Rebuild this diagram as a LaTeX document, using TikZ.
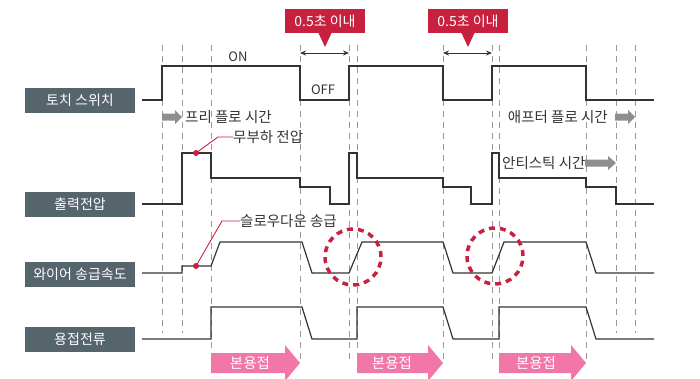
\documentclass[tikz,border=0pt]{standalone}
\usepackage{fontspec}
\setmainfont{Noto Sans CJK KR}
\usetikzlibrary{arrows.meta}
\definecolor{slate}{HTML}{56646C}
\definecolor{wine}{HTML}{C8203F}
\definecolor{pinkar}{HTML}{F077A8}
\definecolor{grayar}{HTML}{8E8E90}
\definecolor{ink}{HTML}{333333}
\begin{document}
\begin{tikzpicture}[x=1pt,y=-1pt,
  lbl/.style={fill=slate,text=white,minimum width=110pt,minimum height=25pt,inner sep=0pt,font=\fontsize{14}{14}\selectfont},
  sig/.style={draw=ink,line width=1.2pt},
  guide/.style={draw=black!40,line width=1pt,dash pattern=on 6pt off 5pt},
  callout/.style={fill=wine,text=white,minimum width=80pt,minimum height=24pt,inner sep=0pt,font=\fontsize{14}{14}\selectfont},
  tx/.style={text=ink,inner sep=0pt,font=\fontsize{14.5}{14.5}\selectfont},
  txs/.style={text=ink,inner sep=0pt,font=\fontsize{13}{13}\selectfont},
  pinkarrow/.style={fill=pinkar},
  grayarrow/.style={fill=grayar},
  redline/.style={draw=wine,line width=0.9pt},
  redring/.style={draw=wine,line width=3.5pt,dash pattern=on 6pt off 5pt}]
\useasboundingbox (0,0) rectangle (700,378);
% guides
\foreach \x in {162,182,616,635} \draw[guide] (\x,45) -- (\x,333);
\foreach \x in {211,300,349,357,443,492,499,586} \draw[guide] (\x,45) -- (\x,362);
% labels
\node[lbl] (l1) at (80,100) {토치 스위치};
\node[lbl] (l2) at (80,204) {출력전압};
\node[lbl] (l3) at (80,274) {와이어 송급속도};
\node[lbl] (l4) at (80,339) {용접전류};
% torch switch
\draw[sig] (142,100) -- (162,100) -- (162,66) -- (300,66) -- (300,100) -- (349,100) -- (349,66) -- (443,66) -- (443,100) -- (492,100) -- (492,66) -- (586,66) -- (586,100) -- (654,100);
% output voltage
\draw[sig] (142,204) -- (182,204) -- (182,153) -- (211,153) -- (211,178) -- (300,178) -- (300,187) -- (330,187) -- (330,204) -- (349,204) -- (349,153) -- (357,153) -- (357,178) -- (443,178) -- (443,187) -- (471,187) -- (471,204) -- (492,204) -- (492,153) -- (499,153) -- (499,178) -- (586,178) -- (586,187) -- (616,187) -- (616,204) -- (654,204);
% wire feed
\draw[sig] (142,273) -- (182,273) -- (182,266) -- (211,266) -- (220,242) -- (302,242) -- (312,273) -- (349,273) -- (362,242) -- (443,242) -- (453,273) -- (492,273) -- (504,242) -- (586,242) -- (596,273) -- (654,273);
% weld current
\draw[sig] (142,339) -- (211,339) -- (211,307) -- (302,307) -- (312,339) -- (357,339) -- (357,307) -- (443,307) -- (453,339) -- (499,339) -- (499,307) -- (586,307) -- (596,339) -- (654,339);
% texts
\node[txs] (on) at (238,57) {ON};
\node[txs] (off) at (323,90) {OFF};
\node[tx,anchor=west] (pre) at (185,117) {프리 플로 시간};
\node[tx,anchor=east] (after) at (608,117) {애프터 플로 시간};
\node[tx,anchor=west] (anti) at (502,163) {안티스틱 시간};
\node[tx,anchor=west] (noload) at (233,137) {무부하 전압};
\node[tx,anchor=west] (slow) at (240,221) {슬로우다운 송급};
% gray arrows
\fill[grayarrow] (162,113.5) -- (175,113.5) -- (175,110) -- (182,117) -- (175,124) -- (175,120.5) -- (162,120.5) -- cycle;
\fill[grayarrow] (615,113.5) -- (628,113.5) -- (628,110) -- (635,117) -- (628,124) -- (628,120.5) -- (615,120.5) -- cycle;
\fill[grayarrow] (585,159.5) -- (608,159.5) -- (608,156) -- (616,163) -- (608,170) -- (608,166.5) -- (585,166.5) -- cycle;
% red pointer lines
\coordinate (d1) at (196,153);
\coordinate (d2) at (196,266);
\draw[redline] (d1) -- (218,137) -- (noload.west);
\draw[redline] (d2) -- (222,221) -- (slow.west);
\fill[wine] (d1) circle (3pt);
\fill[wine] (d2) circle (3pt);
% callouts
\node[callout] (c1) at (325,21) {0.5초 이내};
\node[callout] (c2) at (468,21) {0.5초 이내};
\fill[wine] (318,32) -- (332,32) -- (325,47) -- cycle;
\fill[wine] (461,32) -- (475,32) -- (468,47) -- cycle;
\coordinate (a1) at (300,53); \coordinate (b1) at (349,53);
\coordinate (a2) at (443,53); \coordinate (b2) at (492,53);
\draw[ink,line width=1pt,{Stealth[length=6pt,width=5pt]}-{Stealth[length=6pt,width=5pt]}] (a1) -- (b1);
\draw[ink,line width=1pt,{Stealth[length=6pt,width=5pt]}-{Stealth[length=6pt,width=5pt]}] (a2) -- (b2);
% red rings
\draw[redring] (353,257) circle (28pt);
\draw[redring] (495,256) circle (28pt);
% pink arrows
\fill[pinkarrow] (211,353) -- (285,353) -- (285,345) -- (300,363) -- (285,381) -- (285,373) -- (211,373) -- cycle;
\fill[pinkarrow] (357,353) -- (428,353) -- (428,345) -- (443,363) -- (428,381) -- (428,373) -- (357,373) -- cycle;
\fill[pinkarrow] (499,353) -- (571,353) -- (571,345) -- (586,363) -- (571,381) -- (571,373) -- (499,373) -- cycle;
\node[tx,text=white] (w1) at (250,363) {본용접};
\node[tx,text=white] (w2) at (392,363) {본용접};
\node[tx,text=white] (w3) at (536,363) {본용접};
\end{tikzpicture}
\end{document}
